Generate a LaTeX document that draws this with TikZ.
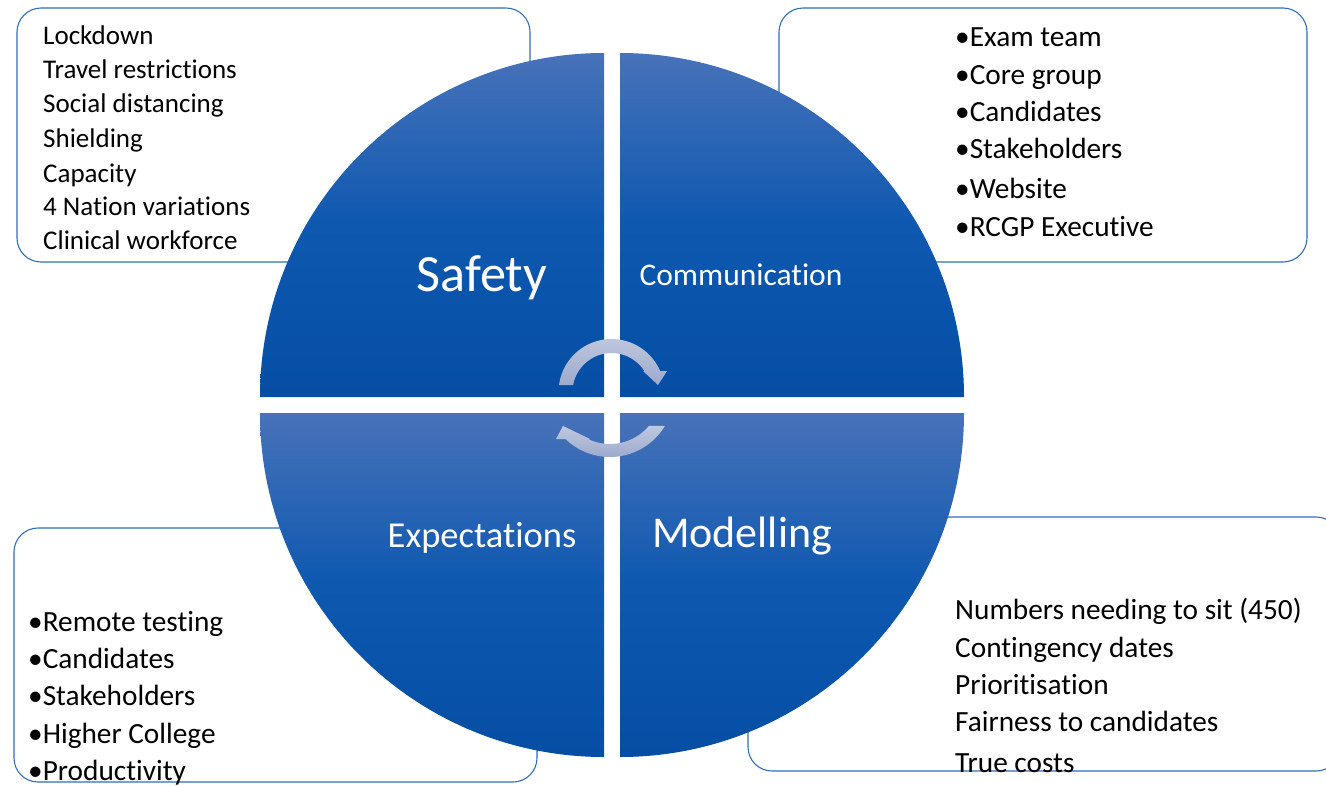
\documentclass[tikz,border=0pt]{standalone}
\usepackage{fontspec}
\setmainfont{Carlito}[RawFeature={-liga;-clig;-calt;-dlig}]
\definecolor{qtop}{RGB}{72,114,185}
\definecolor{qmid}{RGB}{14,88,176}
\definecolor{qbot}{RGB}{5,78,164}
\definecolor{boxline}{RGB}{47,110,186}
\definecolor{arrtop}{RGB}{192,200,223}
\definecolor{arrbot}{RGB}{156,170,204}
\tikzset{
  listbox/.style={draw=boxline, line width=1.1pt, fill=white, rounded corners=24pt},
  quad/.style={top color=qtop, bottom color=qbot, middle color=qmid},
  cyc/.style={top color=arrtop, bottom color=arrbot},
  itemA/.style={anchor=base west, inner sep=0pt, font=\fontsize{27}{30}\selectfont},
  itemB/.style={anchor=base west, inner sep=0pt, font=\fontsize{29.3}{33}\selectfont},
  lab/.style={anchor=base, inner sep=0pt, text=white}
}
\begin{document}
\begin{tikzpicture}[x=1pt,y=1pt]
\useasboundingbox (0,0) rectangle (1326,-785);
% list boxes
\draw[listbox] (17,-8) rectangle (530,-262);
\draw[listbox] (779,-8) rectangle (1307,-262);
\draw[listbox] (14,-528) rectangle (537,-782);
\draw[listbox] (748,-517) rectangle (1340,-771);
% quadrants
\shade[quad] (604,-397) -- (260,-397) arc[start angle=180,end angle=90,radius=344] -- cycle;
\shade[quad] (620,-397) -- (620,-53) arc[start angle=90,end angle=0,radius=344] -- cycle;
\shade[quad] (604,-413) -- (604,-757) arc[start angle=270,end angle=180,radius=344] -- cycle;
\shade[quad] (620,-413) -- (964,-413) arc[start angle=0,end angle=-90,radius=344] -- cycle;
% cycle arrows
\shade[cyc] ([shift={(611.5,-392)}]172.4:53) arc[start angle=172.4,end angle=23.3,radius=53]
  -- (667,-371) -- (658,-385) -- (643,-371)
  -- ([shift={(611.5,-392)}]32.6:39) arc[start angle=32.6,end angle=169.7,radius=39] -- cycle;
\shade[cyc] ([shift={(610,-393)}]-31.0:64) arc[start angle=-31.0,end angle=-134.0,radius=64]
  -- (556,-439) -- (563,-426) -- (590,-439)
  -- ([shift={(610,-393)}]-115.6:51) arc[start angle=-115.6,end angle=-40.3,radius=51] -- cycle;
% quadrant labels
\node[lab, font=\fontsize{52.3}{56}\selectfont] (safety) at (482,-291) {Safety};
\node[lab, font=\fontsize{31.5}{36}\selectfont] (comm) at (741,-285) {Communication};
\node[lab, font=\fontsize{36.5}{40}\selectfont] (expect) at (482,-547) {Expectations};
\node[lab, font=\fontsize{44}{48}\selectfont] (model) at (742,-547) {Modelling};
% top-left list
\node[itemA] (s1) at (43,-44) {Lockdown};
\node[itemA] (s2) at (43,-78) {Travel restrictions};
\node[itemA] (s3) at (43,-112) {Social distancing};
\node[itemA] (s4) at (43,-147) {Shielding};
\node[itemA] (s5) at (43,-182) {Capacity};
\node[itemA] (s6) at (43,-215) {4 Nation variations};
\node[itemA] (s7) at (43,-249) {Clinical workforce};
% top-right list
\node[itemB] (c1) at (955,-46) {•Exam team};
\node[itemB] (c2) at (955,-84) {•Core group};
\node[itemB] (c3) at (955,-121) {•Candidates};
\node[itemB] (c4) at (955,-158) {•Stakeholders};
\node[itemB] (c5) at (955,-198) {•Website};
\node[itemB] (c6) at (955,-236) {•RCGP Executive};
% bottom-left list
\node[itemB] (e1) at (28,-631) {•Remote testing};
\node[itemB] (e2) at (28,-668) {•Candidates};
\node[itemB] (e3) at (28,-705) {•Stakeholders};
\node[itemB] (e4) at (28,-743) {•Higher College};
\node[itemB] (e5) at (28,-780) {•Productivity};
% bottom-right list
\node[itemB] (m1) at (955,-619) {Numbers needing to sit (450)};
\node[itemB] (m2) at (955,-657) {Contingency dates};
\node[itemB] (m3) at (955,-694) {Prioritisation};
\node[itemB] (m4) at (955,-731) {Fairness to candidates};
\node[itemB] (m5) at (955,-772) {True costs};
\end{tikzpicture}
\end{document}
